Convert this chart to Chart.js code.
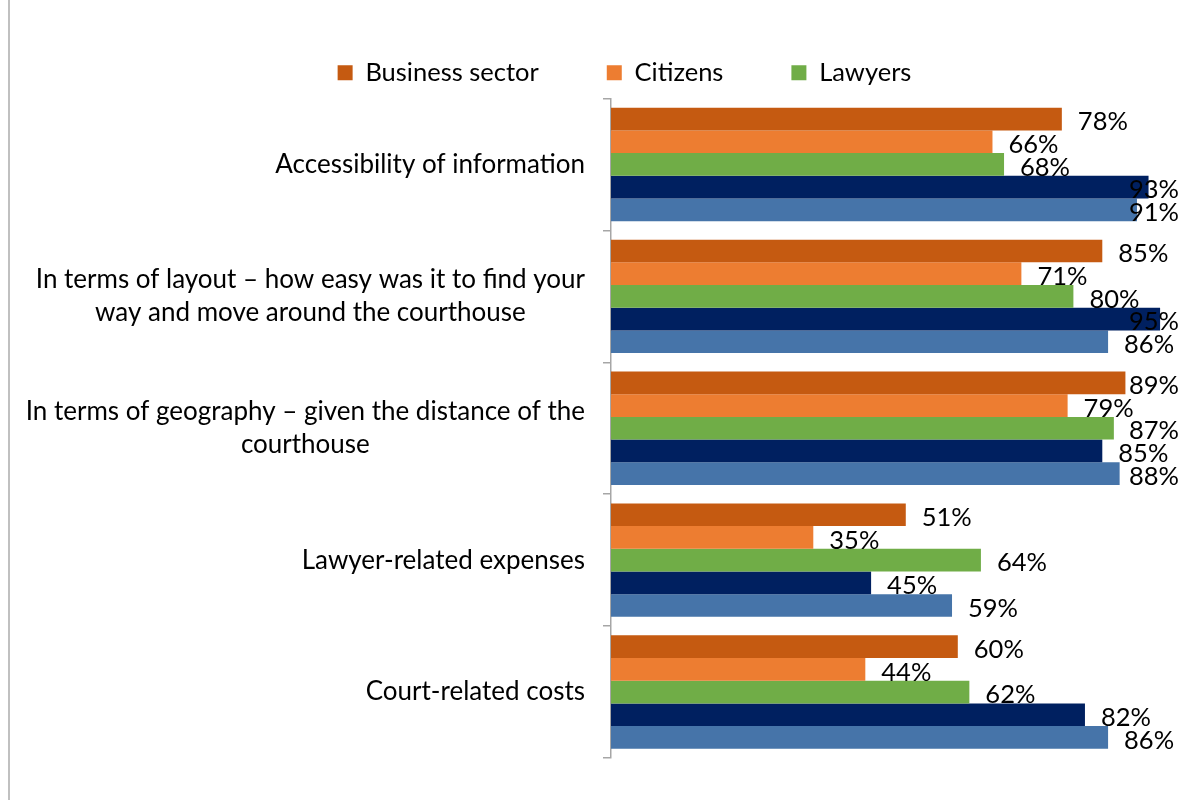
<!DOCTYPE html>
<html>
<head>
<meta charset="utf-8">
<script src="https://cdn.jsdelivr.net/npm/chart.js@4"></script>
<style>
  body { margin: 0; background: #fff; }
  #wrap { position: relative; width: 1203px; height: 800px; }
  #edge { position: absolute; left: 8px; top: 0; width: 2px; height: 800px; background: #c0c0c0; }
  canvas { position: absolute; left: 0; top: 0; }
</style>
</head>
<body>
<div id="wrap">
  <div id="edge"></div>
  <canvas id="chart" width="1203" height="800"></canvas>
</div>
<script>
// categories (each one is a list of lines)
const categories = [
  ["Accessibility of information"],
  ["In terms of layout \u2013 how easy was it to find your", "way and move around the courthouse"],
  ["In terms of geography \u2013 given the distance of the", "courthouse"],
  ["Lawyer-related expenses"],
  ["Court-related costs"]
];

const seriesNames = ["Business sector", "Citizens", "Lawyers", "Series 4", "Series 5"];
const seriesColors = ["#C55A11", "#ED7D31", "#70AD47", "#002060", "#4674A9"];

// values in %
const business = [78, 85, 89, 51, 60];
const citizens = [66, 71, 79, 35, 44];
const lawyers = [68, 80, 87, 64, 62];
const series4 = [93, 95, 85, 45, 82];
const series5 = [91, 86, 88, 59, 86];

const allValues = [business, citizens, lawyers, series4, series5];
const legendCount = 3; // only the first three groups are in the legend

const FONT = "Lato";

// draws the value at the end of each bar
const valueLabels = {
  id: "valueLabels",
  afterDatasetsDraw(chart) {
    const ctx = chart.ctx;
    const limit = chart.chartArea.right - 10;
    ctx.save();
    ctx.font = "25.5px " + FONT;
    ctx.fillStyle = "#000";
    ctx.textBaseline = "middle";
    ctx.textAlign = "left";
    chart.data.datasets.forEach((ds, i) => {
      chart.getDatasetMeta(i).data.forEach((bar, j) => {
        const txt = ds.data[j] + "%";
        const w = ctx.measureText(txt).width;
        const x = Math.min(bar.x + 16, limit - w);
        ctx.fillText(txt, x, bar.y + 3);
      });
    });
    ctx.restore();
  }
};

// category labels: block is right aligned, lines centred inside the block
const categoryLabels = {
  id: "categoryLabels",
  afterDraw(chart) {
    const ctx = chart.ctx;
    const yScale = chart.scales.y;
    const right = yScale.right - 26;
    const lineH = 33;
    ctx.save();
    ctx.font = "26px " + FONT;
    ctx.fillStyle = "#000";
    ctx.textBaseline = "middle";
    ctx.textAlign = "center";
    categories.forEach((lines, i) => {
      const widest = Math.max(...lines.map((l) => ctx.measureText(l).width));
      const cx = right - widest / 2;
      const cy = yScale.getPixelForValue(i);
      const y0 = cy - ((lines.length - 1) * lineH) / 2;
      lines.forEach((l, k) => ctx.fillText(l, cx, y0 + k * lineH));
    });
    ctx.restore();
  }
};

// nudge the legend row to the right, as in the original
const legendShift = {
  id: "legendShift",
  afterLayout(chart) {
    chart.legend.left += 25;
    chart.legend.right += 25;
  }
};

const ctx = document.getElementById("chart");

const myChart = new Chart(ctx, {
  type: "bar",
  data: {
    labels: categories.map((c) => c.join(" ")),
    datasets: allValues.map((vals, i) => ({
      label: seriesNames[i],
      data: vals,
      backgroundColor: seriesColors[i],
      borderWidth: 0,
      categoryPercentage: 0.86,
      barPercentage: 1.0,
    })),
  },
  options: {
    indexAxis: "y",
    responsive: false,
    animation: false,
    devicePixelRatio: 1,
    layout: { padding: { left: 10, right: 14, top: -8, bottom: 42 } },
    plugins: {
      legend: {
        position: "top",
        labels: {
          boxWidth: 15,
          boxHeight: 15,
          padding: 68,
          color: "#000",
          font: { family: FONT, size: 25.5 },
          filter: (item) => item.datasetIndex < legendCount,
        },
      },
      tooltip: { enabled: false },
    },
    scales: {
      x: {
        position: "top",
        min: 0,
        max: 100,
        grid: { display: false },
        border: { display: false },
        ticks: { display: false },
        afterFit(s) { s.height = 3; },
      },
      y: {
        offset: true,
        grid: {
          offset: true,
          drawOnChartArea: false,
          drawTicks: true,
          tickLength: 8,
          color: "#A6A6A6",
          lineWidth: 1.5,
        },
        border: { display: true, color: "#A6A6A6", width: 1.5 },
        ticks: { display: false },
        afterFit(s) { s.width = 601; },
      },
    },
  },
  plugins: [valueLabels, categoryLabels, legendShift],
});
</script>
</body>
</html>
